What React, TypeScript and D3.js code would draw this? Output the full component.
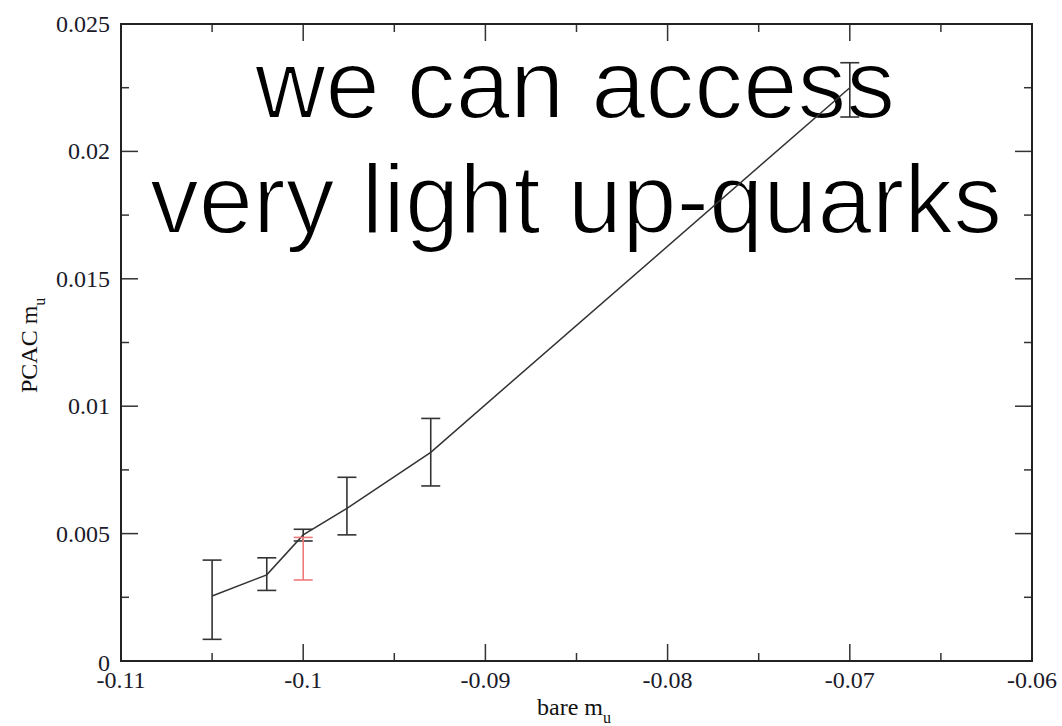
import React from "react";
import * as d3 from "d3";

const xTickValues = [-0.11, -0.1, -0.09, -0.08, -0.07, -0.06];
const xTickLabels = ["-0.11", "-0.1", "-0.09", "-0.08", "-0.07", "-0.06"];
const xMinorTicks = [-0.105, -0.095, -0.085, -0.075, -0.065];
const yTickValues = [0, 0.005, 0.01, 0.015, 0.02, 0.025];
const yTickLabels = ["0", "0.005", "0.01", "0.015", "0.02", "0.025"];
const yMinorTicks = [0.0025, 0.0075, 0.0125, 0.0175, 0.0225];

const bareMu = [-0.105, -0.102, -0.1, -0.0976, -0.093, -0.07];
const pcacMu = [0.00255, 0.00338, 0.00495, 0.00599, 0.00819, 0.0225];
const errLow = [0.00085, 0.00277, 0.00471, 0.00495, 0.00687, 0.02135];
const errHigh = [0.00396, 0.00405, 0.00517, 0.00721, 0.00952, 0.02348];

const redX = [-0.1];
const redY = [0.004];
const redLow = [0.00318];
const redHigh = [0.00485];

const W = 1062;
const H = 726;
const L = 121, R = 1032, T = 24, B = 661;

export default function App() {
  const x = d3.scaleLinear().domain([-0.11, -0.06]).range([L, R]);
  const y = d3.scaleLinear().domain([0, 0.025]).range([B, T]);
  const line = d3
    .line<number>()
    .x((_, i) => x(bareMu[i]))
    .y((d) => y(d));
  const major = 17, minor = 8, cap = 9.5;
  const tickColor = "#333";
  const serif = "'Liberation Serif', 'DejaVu Serif', serif";
  const sans = "'Liberation Sans', Arial, sans-serif";
  return (
    <svg
      width={W}
      height={H}
      style={{ position: "absolute", left: 0, top: 0, background: "#fff" }}
    >
      <rect x={0} y={0} width={W} height={H} fill="#fff" />
      {/* overlay text (beneath plot marks) */}
      <text
        x={575}
        y={118}
        textAnchor="middle"
        fontFamily={sans}
        fontSize={98}
        fontWeight={300}
        fill="#000"
        stroke="#fff"
        strokeWidth={2}
        textLength={640}
        lengthAdjust="spacingAndGlyphs"
      >
        we can access
      </text>
      <text
        x={576}
        y={233}
        textAnchor="middle"
        fontFamily={sans}
        fontSize={98}
        fontWeight={300}
        fill="#000"
        stroke="#fff"
        strokeWidth={2}
        textLength={852}
        lengthAdjust="spacingAndGlyphs"
      >
        very light up-quarks
      </text>
      {/* ticks */}
      {xTickValues.map((v, i) => (
        <g key={"xt" + i}>
          <line x1={x(v)} x2={x(v)} y1={B} y2={B - major} stroke={tickColor} strokeWidth={1.5} />
          <line x1={x(v)} x2={x(v)} y1={T} y2={T + major} stroke={tickColor} strokeWidth={1.5} />
        </g>
      ))}
      {xMinorTicks.map((v, i) => (
        <g key={"xm" + i}>
          <line x1={x(v)} x2={x(v)} y1={B} y2={B - minor} stroke={tickColor} strokeWidth={1.5} />
          <line x1={x(v)} x2={x(v)} y1={T} y2={T + minor} stroke={tickColor} strokeWidth={1.5} />
        </g>
      ))}
      {yTickValues.map((v, i) => (
        <g key={"yt" + i}>
          <line x1={L} x2={L + major} y1={y(v)} y2={y(v)} stroke={tickColor} strokeWidth={1.5} />
          <line x1={R} x2={R - major} y1={y(v)} y2={y(v)} stroke={tickColor} strokeWidth={1.5} />
        </g>
      ))}
      {yMinorTicks.map((v, i) => (
        <g key={"ym" + i}>
          <line x1={L} x2={L + minor} y1={y(v)} y2={y(v)} stroke={tickColor} strokeWidth={1.5} />
          <line x1={R} x2={R - minor} y1={y(v)} y2={y(v)} stroke={tickColor} strokeWidth={1.5} />
        </g>
      ))}
      {/* frame */}
      <rect x={L} y={T} width={R - L} height={B - T} fill="none" stroke="#222" strokeWidth={2} />
      {/* tick labels */}
      {xTickValues.map((v, i) => (
        <text
          key={"xl" + i}
          x={x(v)}
          y={688}
          textAnchor="middle"
          fontFamily={serif}
          fontSize={24}
          fill="#1a1a2a"
        >
          {xTickLabels[i]}
        </text>
      ))}
      {yTickValues.map((v, i) => (
        <text
          key={"yl" + i}
          x={110}
          y={y(v) + (i === 0 ? 10 : 8)}
          textAnchor="end"
          fontFamily={serif}
          fontSize={24}
          fill="#1a1a2a"
        >
          {yTickLabels[i]}
        </text>
      ))}
      {/* axis titles */}
      <text x={537} y={715} fontFamily={serif} fontSize={24} fill="#111">
        bare m
        <tspan fontSize={16} dy={8}>u</tspan>
      </text>
      <text
        transform={`translate(37, 393) rotate(-90)`}
        fontFamily={serif}
        fontSize={24}
        fill="#111"
      >
        PCAC m
        <tspan fontSize={16} dy={8}>u</tspan>
      </text>
      {/* data line */}
      <path d={line(pcacMu) || ""} fill="none" stroke="#333" strokeWidth={1.5} />
      {/* error bars */}
      {bareMu.map((v, i) => (
        <g key={"eb" + i} stroke="#333" strokeWidth={1.6}>
          <line x1={x(v)} x2={x(v)} y1={y(errLow[i])} y2={y(errHigh[i])} />
          <line x1={x(v) - cap} x2={x(v) + cap} y1={y(errLow[i])} y2={y(errLow[i])} />
          <line x1={x(v) - cap} x2={x(v) + cap} y1={y(errHigh[i])} y2={y(errHigh[i])} />
        </g>
      ))}
      {redX.map((v, i) => (
        <g key={"rb" + i} stroke="#ee7a7a" strokeWidth={1.6}>
          <line x1={x(v)} x2={x(v)} y1={y(redLow[i])} y2={y(redHigh[i])} />
          <line x1={x(v) - cap} x2={x(v) + cap} y1={y(redLow[i])} y2={y(redLow[i])} />
          <line x1={x(v) - cap} x2={x(v) + cap} y1={y(redHigh[i])} y2={y(redHigh[i])} />
        </g>
      ))}
    </svg>
  );
}
